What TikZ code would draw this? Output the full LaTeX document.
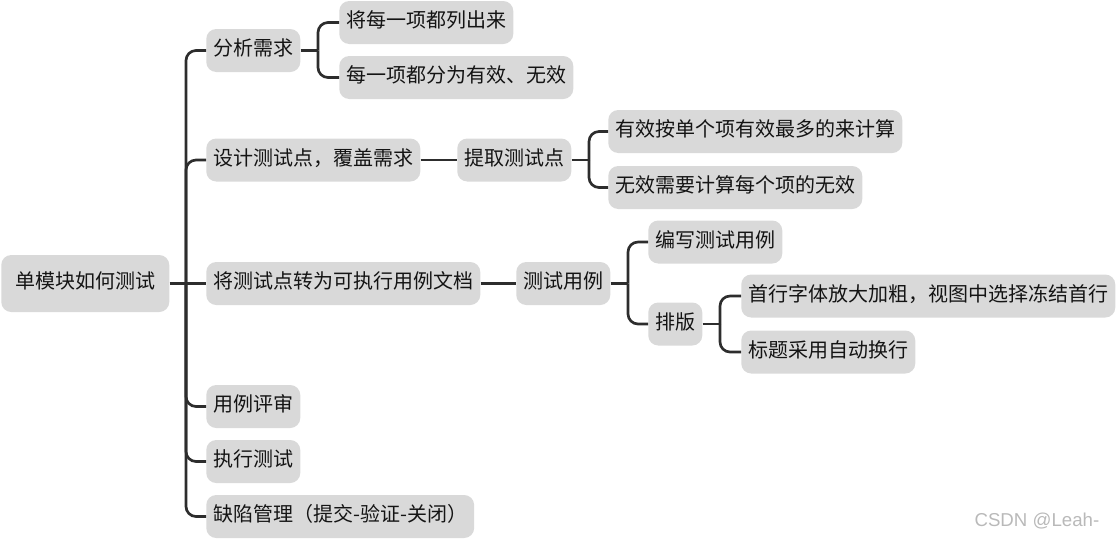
\documentclass[tikz,border=0pt]{standalone}
\usepackage{fontspec}
\setmainfont{Noto Sans CJK SC}
\newfontfamily\markfont{Liberation Sans}
\usepackage{tikz}
\usetikzlibrary{positioning,calc}
\usepackage{xcolor}
\definecolor{BoxGray}{RGB}{217,217,217}
\definecolor{LineGray}{RGB}{45,45,45}
\definecolor{TextDark}{RGB}{20,20,20}
\definecolor{MarkGray}{RGB}{185,185,185}

\begin{document}
\begin{tikzpicture}[
  x=0.75pt,y=-0.75pt,
  topic/.style={rounded corners=7.5pt,fill=BoxGray,text=TextDark,
                font=\fontsize{15pt}{18pt}\selectfont,anchor=west,
                minimum height=32.25pt,inner xsep=5.25pt,inner ysep=0pt,
                text height=0.88em,text depth=0.12em},
  link/.style={draw=LineGray,line width=2pt,rounded corners=7.5pt},
]
\useasboundingbox (0,0) rectangle (1116,540);
% root --- the module
\node[topic,minimum height=42.75pt,inner xsep=10.5pt] (root) at (1,283.5) {单模块如何测试};
% first level
\node[topic] (fx) at (206,50.5) {分析需求};
\node[topic] (sj) at (206,160) {设计测试点，覆盖需求};
\node[topic] (zh) at (206,283.5) {将测试点转为可执行用例文档};
\node[topic] (ps) at (206,406.5) {用例评审};
\node[topic] (zx) at (206,461.5) {执行测试};
\node[topic] (qx) at (206,516.5) {缺陷管理（提交-验证-关闭）};
% 分析需求 --- two items
\node[topic] (fx1) at (339,22.5) {将每一项都列出来};
\node[topic] (fx2) at (339,77.5) {每一项都分为有效、无效};
% 设计测试点 --- extract points
\node[topic] (tq) at (457,160) {提取测试点};
\node[topic] (yx) at (608,131.5) {有效按单个项有效最多的来计算};
\node[topic] (wx) at (608,187.5) {无效需要计算每个项的无效};
% 用例文档 --- cases and layout
\node[topic] (cs) at (516,283.5) {测试用例};
\node[topic] (bx) at (648,242) {编写测试用例};
\node[topic] (pb) at (648,324) {排版};
\node[topic] (sh) at (741,296) {首行字体放大加粗，视图中选择冻结首行};
\node[topic] (bt) at (741,352) {标题采用自动换行};

% branch points
\coordinate (t0) at (186,283.5);
\coordinate (bA) at (318,50.5);
\coordinate (bB) at (589,160);
\coordinate (bC) at (628,283.5);
\coordinate (bD) at (720,324);

% connectors
\draw[link] (root) -- (zh);
\foreach \n in {fx,sj,ps,zx,qx}
  \draw[link] (t0) |- (\n.west);
\draw[link] (fx) -- (bA);
\foreach \n in {fx1,fx2}
  \draw[link] (bA) |- (\n.west);
\draw[link] (sj) -- (tq);
\draw[link] (tq) -- (bB);
\foreach \n in {yx,wx}
  \draw[link] (bB) |- (\n.west);
\draw[link] (zh) -- (cs);
\draw[link] (cs) -- (bC);
\foreach \n in {bx,pb}
  \draw[link] (bC) |- (\n.west);
\draw[link] (pb) -- (bD);
\foreach \n in {sh,bt}
  \draw[link] (bD) |- (\n.west);

% watermark
\node[anchor=east,text=MarkGray,font=\markfont\fontsize{14pt}{16pt}\selectfont] (mark) at (1104,521) {CSDN @Leah-};
\end{tikzpicture}
\end{document}
